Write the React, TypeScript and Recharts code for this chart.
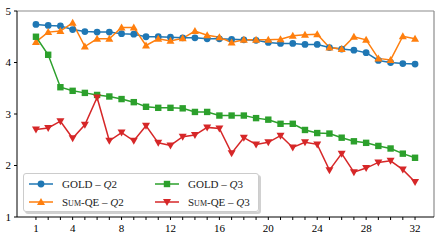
import React from "react";
import { LineChart, Line, XAxis, YAxis, ReferenceLine } from "recharts";

const steps = [
  1, 2, 3, 4, 5, 6, 7, 8, 9, 10, 11, 12, 13, 14, 15, 16,
  17, 18, 19, 20, 21, 22, 23, 24, 25, 26, 27, 28, 29, 30, 31, 32,
];

const goldQ2 = [
  4.74, 4.72, 4.71, 4.64, 4.6, 4.59, 4.59, 4.56, 4.55, 4.5, 4.5, 4.49, 4.48, 4.48, 4.46, 4.46,
  4.45, 4.44, 4.43, 4.39, 4.37, 4.37, 4.35, 4.35, 4.29, 4.26, 4.24, 4.19, 4.04, 4.0, 3.98, 3.97,
];
const sumQeQ2 = [
  4.4, 4.59, 4.61, 4.77, 4.31, 4.46, 4.46, 4.68, 4.68, 4.33, 4.46, 4.42, 4.47, 4.61, 4.53, 4.49,
  4.39, 4.44, 4.44, 4.44, 4.45, 4.52, 4.54, 4.55, 4.29, 4.26, 4.5, 4.44, 4.08, 4.05, 4.51, 4.46,
];
const goldQ3 = [
  4.5, 4.15, 3.52, 3.45, 3.41, 3.37, 3.34, 3.29, 3.23, 3.14, 3.12, 3.12, 3.11, 3.04, 3.04, 2.97,
  2.97, 2.97, 2.92, 2.89, 2.81, 2.81, 2.69, 2.63, 2.62, 2.54, 2.47, 2.44, 2.38, 2.33, 2.23, 2.15,
];
const sumQeQ3 = [
  2.7, 2.73, 2.86, 2.53, 2.79, 3.32, 2.48, 2.64, 2.48, 2.77, 2.44, 2.39, 2.56, 2.59, 2.74, 2.72,
  2.24, 2.54, 2.41, 2.45, 2.58, 2.35, 2.45, 2.41, 1.91, 2.23, 1.87, 1.95, 2.06, 2.09, 1.92, 1.68,
];

const xLabelTicks = [1, 4, 8, 12, 16, 20, 24, 28, 32];
const yTicks = [1, 2, 3, 4, 5];

const data = steps.map((step, i) => ({
  step,
  goldQ2: goldQ2[i],
  sumQeQ2: sumQeQ2[i],
  goldQ3: goldQ3[i],
  sumQeQ3: sumQeQ3[i],
}));

const BLUE = "#1f77b4";
const ORANGE = "#ff7f0e";
const GREEN = "#2ca02c";
const RED = "#d62728";
const FONT = "'Liberation Serif', 'DejaVu Serif', serif";

type Shape = "circle" | "square" | "up" | "down";

function marker(shape: Shape, color: string, cx: number, cy: number, key?: string) {
  if (shape === "circle") return <circle key={key} cx={cx} cy={cy} r={3.4} fill={color} />;
  if (shape === "square")
    return <rect key={key} x={cx - 3.2} y={cy - 3.2} width={6.4} height={6.4} fill={color} />;
  const s = 4;
  const d =
    shape === "up"
      ? `M${cx},${cy - s} L${cx + s},${cy + s * 0.75} L${cx - s},${cy + s * 0.75}Z`
      : `M${cx},${cy + s} L${cx + s},${cy - s * 0.75} L${cx - s},${cy - s * 0.75}Z`;
  return <path key={key} d={d} fill={color} />;
}

const dotFor = (shape: Shape, color: string) => (props: any) => {
  const { cx, cy, index } = props;
  if (cx == null || cy == null) return <g key={`e${index}`} />;
  return marker(shape, color, cx, cy, `${shape}-${index}`);
};

function SumQe() {
  return <span style={{ fontVariant: "small-caps" }}>Sum-QE</span>;
}

function Label({ name, q }: { name: React.ReactNode; q: string }) {
  return (
    <span>
      {name} – <i>Q</i>
      {q}
    </span>
  );
}

function Entry({ shape, color, children }: { shape: Shape; color: string; children: React.ReactNode }) {
  return (
    <div style={{ display: "flex", alignItems: "center", height: 18 }}>
      <svg width={28} height={12} style={{ marginRight: 7 }}>
        <line x1={2} y1={6} x2={26} y2={6} stroke={color} strokeWidth={1.5} />
        {marker(shape, color, 14, 6)}
      </svg>
      {children}
    </div>
  );
}

export default function App() {
  return (
    <div style={{ position: "absolute", left: 0, top: 0, width: 439, height: 244 }}>
      <LineChart
        width={439}
        height={244}
        data={data}
        margin={{ top: 11, right: 5, bottom: 0, left: 0 }}
      >
        <XAxis
          dataKey="step"
          type="number"
          domain={[-0.55, 33.55]}
          ticks={steps}
          interval={0}
          height={27}
          tickFormatter={(v) => (xLabelTicks.includes(v) ? String(v) : "")}
          tick={{ fontFamily: FONT, fontSize: 11, fill: "#000" }}
          tickSize={3}
          tickMargin={4}
          stroke="#000"
          allowDataOverflow
        />
        <YAxis
          type="number"
          domain={[1, 5]}
          ticks={yTicks}
          width={17}
          tick={{ fontFamily: FONT, fontSize: 11, fill: "#000" }}
          tickSize={3}
          tickMargin={3}
          stroke="#000"
        />
        <ReferenceLine y={5} stroke="#8c8c8c" strokeWidth={1.2} />
        <ReferenceLine x={33.55} stroke="#8c8c8c" strokeWidth={1.2} />
        <Line
          dataKey="goldQ2"
          stroke={BLUE}
          strokeWidth={1.5}
          dot={dotFor("circle", BLUE)}
          isAnimationActive={false}
        />
        <Line
          dataKey="sumQeQ2"
          stroke={ORANGE}
          strokeWidth={1.5}
          dot={dotFor("up", ORANGE)}
          isAnimationActive={false}
        />
        <Line
          dataKey="goldQ3"
          stroke={GREEN}
          strokeWidth={1.5}
          dot={dotFor("square", GREEN)}
          isAnimationActive={false}
        />
        <Line
          dataKey="sumQeQ3"
          stroke={RED}
          strokeWidth={1.5}
          dot={dotFor("down", RED)}
          isAnimationActive={false}
        />
      </LineChart>
      <div
        style={{
          position: "absolute",
          left: 23,
          top: 173,
          width: 236,
          height: 39,
          boxSizing: "border-box",
          border: "1px solid #cccccc",
          borderRadius: 3,
          background: "rgba(255,255,255,0.85)",
          boxShadow: "2px 2px 0 rgba(0,0,0,0.18)",
          fontFamily: FONT,
          fontSize: 11,
          color: "#222",
          display: "grid",
          gridTemplateColumns: "126px 110px",
          padding: "1px 0 0 3px",
        }}
      >
        <Entry shape="circle" color={BLUE}>
          <Label name="GOLD" q="2" />
        </Entry>
        <Entry shape="square" color={GREEN}>
          <Label name="GOLD" q="3" />
        </Entry>
        <Entry shape="up" color={ORANGE}>
          <Label name={<SumQe />} q="2" />
        </Entry>
        <Entry shape="down" color={RED}>
          <Label name={<SumQe />} q="3" />
        </Entry>
      </div>
    </div>
  );
}
